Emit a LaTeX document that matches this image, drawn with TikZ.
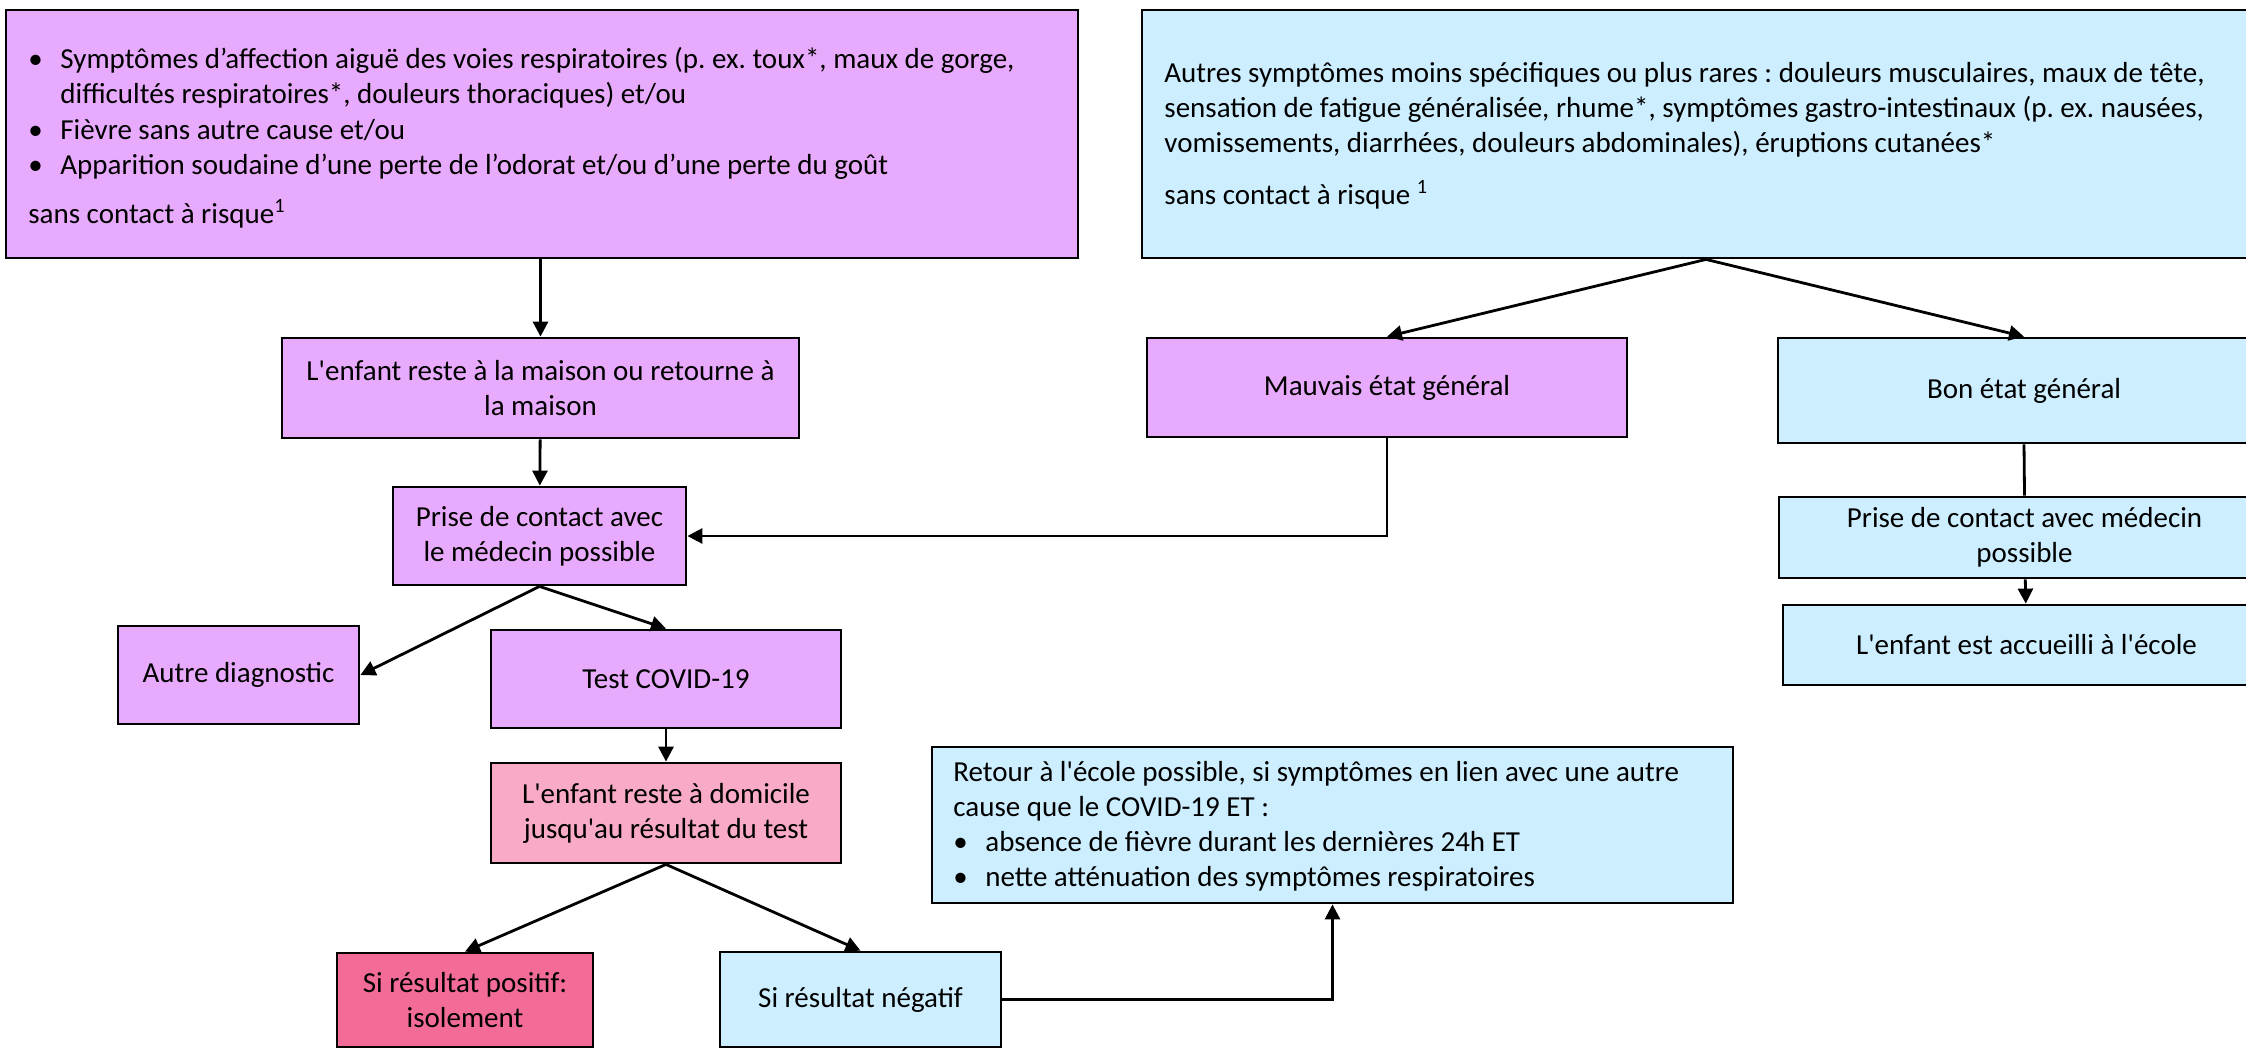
\documentclass[tikz,border=0pt]{standalone}
\usepackage{fontspec}
\setmainfont{Carlito}
\usepackage{tikz}
\usetikzlibrary{arrows.meta}
\definecolor{lilac}{RGB}{232,170,252}
\definecolor{skyblue}{RGB}{204,238,255}
\definecolor{rosepink}{RGB}{248,170,198}
\definecolor{hotpink}{RGB}{243,108,152}
\newcommand{\apos}{\textquotesingle}
\newcommand{\bul}{\makebox[16pt][l]{\textbullet}}
\frenchspacing

\begin{document}
\begin{tikzpicture}[->,>={Triangle[length=7.5pt,width=7.5pt]},line width=1.4pt,
                    x=0.5pt,y=-0.5pt,font=\fontsize{14.5}{17.5}\selectfont]
  \tikzstyle{box}=[draw,rectangle,align=center,inner sep=0pt]
  \tikzstyle{txt}=[anchor=base west,inner sep=0pt]
  \clip (0,0) rectangle (2246,1050);

  % top row
  \node[box,fill=lilac,minimum width=536pt,minimum height=124pt] (symA) at (542,134) {};
  \node[txt] (symAtext) at (27,68) {\begin{minipage}[t]{530pt}\setlength{\parindent}{0pt}%
    \fontsize{14.5}{17.75}\selectfont
    \bul Symptômes d’affection aiguë des voies respiratoires (p. ex. toux*, maux de gorge,\\
    \hspace*{16pt}difficultés respiratoires*, douleurs thoraciques) et/ou\\
    \bul Fièvre sans autre cause et/ou\\
    \bul Apparition soudaine d’une perte de l’odorat et/ou d’une perte du goût\\[6.5pt]
    sans contact à risque\textsuperscript{1}\end{minipage}};
  \node[box,fill=skyblue,minimum width=564pt,minimum height=124pt] (symB) at (1706,134) {};
  \node[txt] (symBtext) at (1163,82) {\begin{minipage}[t]{540pt}\setlength{\parindent}{0pt}%
    Autres symptômes moins spécifiques ou plus rares : douleurs musculaires, maux de tête,\\
    sensation de fatigue généralisée, rhume*, symptômes gastro-intestinaux (p. ex. nausées,\\
    vomissements, diarrhées, douleurs abdominales), éruptions cutanées*\\[8.5pt]
    sans contact à risque \textsuperscript{1}\end{minipage}};

  % left branch
  \node[box,fill=lilac,minimum width=258.5pt,minimum height=50pt] (maison) at (540.5,388)
       {L\apos enfant reste à la maison ou retourne à\\la maison};
  \node[box,fill=lilac,minimum width=146.5pt,minimum height=49pt] (prise) at (539.5,536)
       {Prise de contact avec\\le médecin possible};
  \node[box,fill=lilac,minimum width=120.5pt,minimum height=49pt] (autre) at (238.5,675)
       {Autre diagnostic};
  \node[box,fill=lilac,minimum width=175pt,minimum height=49pt] (test) at (666,679)
       {Test COVID-19};
  \node[box,fill=rosepink,minimum width=175pt,minimum height=50pt] (domicile) at (666,813)
       {L\apos enfant reste à domicile\\jusqu\apos au résultat du test};
  \node[box,fill=hotpink,minimum width=128pt,minimum height=47pt] (positif) at (465,1000)
       {Si résultat positif:\\isolement};
  \node[box,fill=skyblue,minimum width=140.5pt,minimum height=47.5pt] (negatif) at (860.5,999.5)
       {Si résultat négatif};
  \node[box,fill=skyblue,minimum width=400.5pt,minimum height=78pt] (retour) at (1332.5,825) {};
  \node[txt] (retourtext) at (952,781) {\begin{minipage}[t]{395pt}\setlength{\parindent}{0pt}%
    Retour à l\apos école possible, si symptômes en lien avec une autre\\
    cause que le COVID-19 ET :\\
    \bul absence de fièvre durant les dernières 24h ET\\
    \bul nette atténuation des symptômes respiratoires\end{minipage}};

  % right branch
  \node[box,fill=lilac,minimum width=240pt,minimum height=49.5pt] (mauvais) at (1387,387.5)
       {Mauvais état général};
  \node[box,fill=skyblue,minimum width=246pt,minimum height=52.5pt] (bon) at (2024,390.5)
       {Bon état général};
  \node[box,fill=skyblue,minimum width=245.5pt,minimum height=40.5pt] (prisemed) at (2024.5,537.5)
       {Prise de contact avec médecin\\possible};
  \node[box,fill=skyblue,minimum width=243.5pt,minimum height=40pt] (accueil) at (2026.5,645)
       {L\apos enfant est accueilli à l\apos école};

  \path (maison.north |- symA.south) edge (maison.north)
        (maison) edge (prise)
        (prise.south) edge (autre.east)
                      edge (test.north)
        (test) edge (domicile)
        (domicile.south) edge (positif.north)
                         edge (negatif.north)
        (symB.south) edge (mauvais.north)
                     edge (bon.north)
        (prisemed) edge (accueil);
  \draw (mauvais.south) |- (prise.east);
  \draw (negatif.east) -| (retour.south);
  \draw[-] (bon.south) -- (prisemed.north);
\end{tikzpicture}
\end{document}
